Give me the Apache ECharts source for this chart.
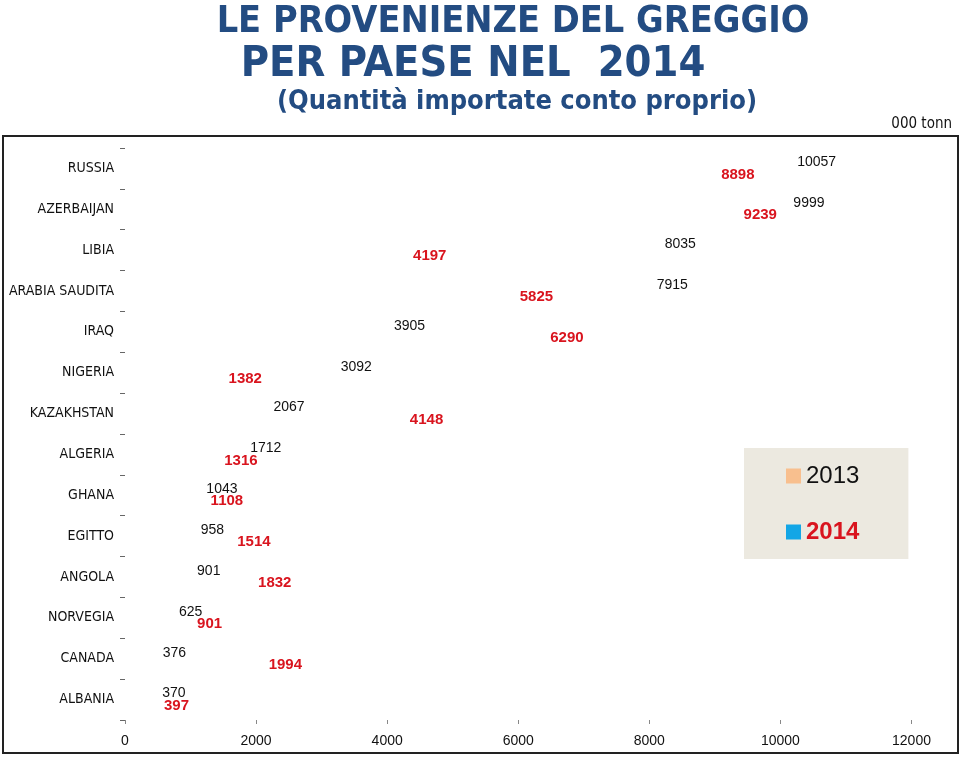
<!DOCTYPE html>
<html><head><meta charset="utf-8">
<script src="https://cdn.jsdelivr.net/npm/echarts@6/dist/echarts.min.js"></script>
<style>html,body{margin:0;padding:0;background:#fff}#c{width:960px;height:757px}</style>
</head><body><div id="c"></div>
<script>
const categories = ['RUSSIA','AZERBAIJAN','LIBIA','ARABIA SAUDITA','IRAQ','NIGERIA','KAZAKHSTAN','ALGERIA','GHANA','EGITTO','ANGOLA','NORVEGIA','CANADA','ALBANIA'];
const values2013 = [10057, 9999, 8035, 7915, 3905, 3092, 2067, 1712, 1043, 958, 901, 625, 376, 370];
const values2014 = [8898, 9239, 4197, 5825, 6290, 1382, 4148, 1316, 1108, 1514, 1832, 901, 1994, 397];
const xTicks = [0, 2000, 4000, 6000, 8000, 10000, 12000];

const NARROW = '"Liberation Sans Narrow", "DejaVu Sans Condensed", "Liberation Sans", sans-serif';
const SANS = '"Liberation Sans", Arial, sans-serif';
const chart = echarts.init(document.getElementById('c'));
chart.setOption({
  animation: false,
  backgroundColor: '#fff',
  title: [
    {text: 'LE PROVENIENZE DEL GREGGIO', left: 508, top: -2, textAlign: 'center',
     textStyle: {fontFamily: NARROW, fontSize: 37.5, fontWeight: 'bold', color: '#234C82'}},
    {text: 'PER PAESE NEL  2014', left: 468, top: 38, textAlign: 'center',
     textStyle: {fontFamily: NARROW, fontSize: 43, fontWeight: 'bold', color: '#234C82'}},
    {text: '(Quantità importate conto proprio)', left: 512, top: 83, textAlign: 'center',
     textStyle: {fontFamily: NARROW, fontSize: 27, fontWeight: 'bold', color: '#234C82'}},
    {text: '000 tonn', right: 3, top: 112,
     textStyle: {fontFamily: NARROW, fontSize: 15, fontWeight: 'normal', color: '#111'}}
  ],
  legend: {
    orient: 'vertical', left: 744, top: 448,
    backgroundColor: '#ECE9E0', padding: [16, 49, 15, 42],
    itemWidth: 15, itemHeight: 15, itemGap: 32,
    selectedMode: false,
    data: [
      {name: '2013', icon: 'rect', itemStyle: {color: '#F8BF8E'},
       textStyle: {fontFamily: SANS, fontSize: 24, color: '#111', fontWeight: 'normal'}},
      {name: '2014', icon: 'rect', itemStyle: {color: '#13A6E6'},
       textStyle: {fontFamily: SANS, fontSize: 24, color: '#D9141E', fontWeight: 'bold'}}
    ]
  },
  graphic: [
    {type: 'rect', shape: {x: 3, y: 136, width: 955, height: 617},
     style: {fill: 'none', stroke: '#222', lineWidth: 2}, silent: true}
  ],
  grid: {left: 125, right: 48.5, top: 148, bottom: 37, containLabel: false},
  xAxis: {
    type: 'value', min: xTicks[0], max: xTicks[xTicks.length - 1], interval: 2000,
    axisLine: {show: false}, splitLine: {show: false},
    axisTick: {show: true, length: 4, lineStyle: {color: '#888'}},
    axisLabel: {fontFamily: SANS, fontSize: 14, color: '#111', margin: 14,
                formatter: function (v) { return String(v); }}
  },
  yAxis: {
    type: 'category', data: categories, inverse: true,
    axisLine: {show: false},
    axisTick: {show: true, length: 5, lineStyle: {color: '#666'}},
    axisLabel: {fontFamily: NARROW, fontSize: 14, color: '#111', margin: 11}
  },
  series: [
    {name: '2013', type: 'bar', data: values2013, barWidth: 12, barGap: '0%',
     itemStyle: {color: 'rgba(0,0,0,0)'},
     label: {show: true, position: 'right', distance: 13, fontFamily: SANS, fontSize: 14, color: '#111'}},
    {name: '2014', type: 'bar', data: values2014, barWidth: 12, barGap: '0%',
     itemStyle: {color: 'rgba(0,0,0,0)'},
     label: {show: true, position: 'right', distance: 13, fontFamily: SANS, fontSize: 15, fontWeight: 'bold', color: '#D9141E'}}
  ]
});
</script></body></html>
